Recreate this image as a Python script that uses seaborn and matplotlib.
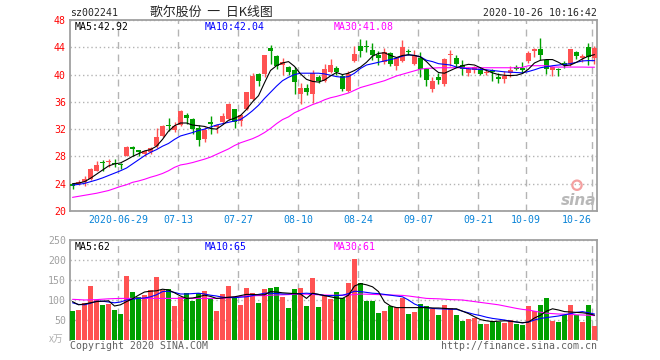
import numpy as np
import pandas as pd
import matplotlib
matplotlib.use("Agg")
import matplotlib.pyplot as plt
import seaborn as sns

# daily K-line of sz002241, 88 sessions (2020-06-15 .. 2020-10-26)
open_px = [23.9, 23.9, 24.2, 24.7, 25.9, 27.2, 27.2, 27.1, 26.9, 28.1,
           29.4, 28.9, 28.4, 28.6, 29.5, 31.0, 32.6, 31.9, 32.6, 34.1,
           33.5, 32.1, 30.5, 33.1, 32.3, 33.1, 33.5, 34.9, 33.2, 34.9,
           36.4, 40.1, 40.1, 43.9, 42.7, 41.4, 41.1, 40.6, 37.2, 38.1,
           37.2, 39.6, 39.1, 40.4, 40.9, 39.8, 37.6, 42.0, 44.2, 44.2,
           43.6, 42.9, 41.8, 43.2, 41.3, 42.0, 43.5, 41.5, 42.5, 40.8,
           37.9, 39.7, 38.6, 42.8, 42.5, 41.4, 40.3, 40.7, 40.6, 40.2,
           40.7, 39.7, 39.4, 40.2, 41.1, 41.0, 42.0, 43.45, 43.8, 42.2,
           40.65, 40.85, 41.7, 41.6, 43.35, 42.5, 44.1, 42.5]
close_px = [23.6, 24.3, 24.7, 26.1, 26.7, 27.0, 27.3, 26.9, 26.7, 29.4,
            29.1, 28.6, 28.8, 29.3, 30.9, 32.4, 32.4, 32.4, 34.6, 33.6,
            32.0, 30.4, 31.9, 32.7, 32.6, 33.9, 35.7, 33.1, 34.1, 37.4,
            39.8, 39.1, 42.9, 43.5, 41.3, 41.8, 40.4, 38.9, 38.1, 37.5,
            40.3, 39.1, 40.8, 41.4, 40.4, 37.9, 40.1, 43.0, 43.4, 44.0,
            42.8, 42.4, 43.3, 41.6, 42.5, 44.0, 43.3, 42.8, 40.8, 39.2,
            39.1, 39.2, 42.3, 43.0, 41.6, 40.8, 40.8, 41.1, 40.1, 40.3,
            40.45, 39.3, 39.8, 40.65, 40.85, 40.6, 43.2, 43.8, 42.9, 40.85,
            41.15, 40.65, 41.35, 43.7, 42.7, 42.7, 42.6, 43.85]
high_px = [24.1, 24.5, 25.2, 26.3, 27.3, 27.5, 27.6, 27.6, 27.1, 29.5,
           29.5, 29.0, 29.0, 29.4, 32.2, 32.6, 33.7, 33.0, 34.8, 34.3,
           33.6, 32.6, 32.3, 33.9, 32.8, 34.3, 35.8, 35.0, 34.2, 37.5,
           40.2, 40.2, 42.9, 44.4, 42.8, 42.4, 41.3, 41.1, 38.8, 38.6,
           40.6, 40.0, 41.5, 42.3, 41.3, 40.1, 40.5, 44.2, 45.2, 45.1,
           44.7, 43.5, 43.9, 43.3, 42.6, 45.0, 43.8, 43.6, 43.3, 41.0,
           39.6, 40.2, 42.4, 43.6, 42.9, 42.2, 41.1, 41.3, 41.1, 40.8,
           40.8, 40.2, 40.5, 41.2, 41.4, 41.8, 43.4, 43.9, 45.3, 42.3,
           41.3, 41.0, 42.0, 43.8, 43.5, 43.0, 44.6, 44.2]
low_px = [23.2, 23.8, 23.6, 24.6, 25.8, 25.9, 26.5, 26.4, 26.2, 28.0,
          28.0, 28.0, 28.1, 28.3, 29.3, 30.9, 31.8, 31.6, 32.4, 32.8,
          31.3, 29.6, 30.1, 31.3, 31.5, 32.7, 33.4, 32.2, 32.5, 34.8,
          36.3, 38.3, 39.6, 41.6, 40.8, 39.9, 40.0, 37.2, 35.7, 37.0,
          35.9, 38.8, 38.9, 40.2, 40.0, 37.6, 37.4, 41.8, 42.6, 43.3,
          42.2, 41.4, 41.6, 41.3, 40.6, 41.9, 42.8, 41.4, 39.6, 38.3,
          37.5, 38.6, 38.3, 41.3, 41.1, 40.0, 39.8, 40.3, 40.0, 40.0,
          39.0, 38.8, 38.7, 39.6, 40.6, 40.2, 41.7, 42.6, 42.2, 40.1,
          39.8, 39.8, 41.0, 41.3, 42.3, 41.9, 41.4, 41.6]
volume = [72.5, 75, 92, 135, 100, 87.5, 90, 75, 65, 160,
          121, 108, 112, 125, 158, 125, 127.5, 85, 108, 118,
          98, 118, 122, 104, 72.5, 115, 135, 104, 87.5, 129,
          118, 93, 127.5, 131, 133, 108, 81, 127.5, 131, 85,
          156, 83, 112, 102, 121, 104, 143, 202.5, 142, 97.5,
          98, 68, 72.5, 85, 82, 104, 65, 70, 90, 85,
          77.5, 62.5, 87.5, 79, 62.5, 48, 52.5, 55, 40, 40,
          47.5, 45, 41.7, 50, 40, 37.5, 85, 72.5, 87.5, 105,
          48, 46, 62.5, 87.5, 62.5, 46, 87.5, 35]

ma5 = [24.0, 24.1, 24.3, 24.8, 25.4, 26.0, 26.6, 26.9, 27.05, 27.5,
       28.0, 28.4, 28.8, 29.0, 29.5, 30.5, 31.7, 32.5, 32.9, 32.9,
       32.6, 32.5, 32.4, 32.1, 32.0, 32.6, 33.3, 33.6, 34.0, 34.9,
       36.0, 36.9, 38.8, 40.6, 41.3, 41.7, 41.9, 41.2, 40.1, 39.3,
       39.0, 38.9, 39.2, 39.8, 40.3, 40.0, 40.2, 40.6, 41.1, 41.8,
       42.7, 43.1, 43.2, 42.8, 42.5, 42.8, 42.9, 42.8, 42.6, 41.9,
       41.0, 40.3, 40.2, 40.6, 41.0, 41.3, 41.5, 41.4, 41.0, 40.6,
       40.25, 40.0, 39.9, 39.85, 39.9, 40.15, 40.8, 41.7, 42.1, 42.2,
       42.2, 41.8, 41.3, 41.4, 41.8, 42.3, 42.7, 42.92]
ma10 = [23.8, 23.9, 24.05, 24.3, 24.55, 24.85, 25.2, 25.55, 25.9, 26.3,
        26.9, 27.5, 28.1, 28.6, 29.0, 29.5, 29.9, 30.5, 31.0, 31.25,
        31.5, 31.8, 32.0, 32.3, 32.6, 32.8, 33.0, 33.2, 33.4, 34.0,
        34.7, 35.5, 36.5, 37.4, 38.3, 39.1, 39.6, 40.0, 40.2, 40.2,
        40.2, 40.2, 40.1, 39.9, 39.7, 39.6, 39.7, 40.2, 40.9, 41.4,
        41.6, 41.8, 42.0, 42.2, 42.4, 42.7, 42.9, 42.8, 42.6, 42.1,
        41.9, 41.6, 41.5, 41.4, 41.1, 40.95, 40.85, 40.8, 40.75, 40.7,
        40.6, 40.5, 40.4, 40.35, 40.3, 40.25, 40.45, 40.7, 41.0, 41.15,
        41.3, 41.4, 41.5, 41.6, 41.8, 42.0, 42.05, 42.04]
ma30 = [22.0, 22.15, 22.3, 22.45, 22.6, 22.8, 23.0, 23.3, 23.6, 23.85,
        24.2, 24.4, 24.65, 24.95, 25.2, 25.5, 25.9, 26.4, 26.75, 26.9,
        27.1, 27.35, 27.6, 27.9, 28.3, 28.7, 29.1, 29.6, 30.0, 30.3,
        30.6, 31.0, 31.5, 32.1, 32.8, 33.4, 33.8, 34.4, 34.8, 35.2,
        35.6, 35.9, 36.3, 36.6, 36.8, 37.05, 37.3, 37.7, 38.1, 38.35,
        38.6, 38.85, 39.1, 39.45, 39.8, 40.05, 40.3, 40.55, 40.8, 40.9,
        40.95, 41.0, 41.0, 41.0, 41.0, 41.0, 41.0, 41.0, 41.0, 41.0,
        41.0, 41.0, 41.0, 41.0, 41.0, 41.05, 41.3, 41.3, 41.3, 41.3,
        41.1, 41.1, 41.1, 41.1, 41.1, 41.1, 41.08, 41.08]

vol_ma5 = [96, 88, 90, 93, 96, 97, 98, 85, 88, 96,
           103, 112, 120, 122, 123, 127, 125, 118, 110, 104,
           105, 108, 112, 109, 104, 105, 107, 108, 111, 114,
           114, 113, 113, 121, 120, 118, 117, 116, 115, 104,
           117, 114, 111, 108, 105, 104, 112, 135, 141, 138,
           133, 121, 95, 85, 81, 81, 81, 81, 81, 81,
           80, 80, 79, 78, 78, 72, 66, 58, 51, 48,
           46, 47, 48, 47, 45, 43, 45, 55, 62, 72,
           78, 75, 71, 70, 69, 68, 66, 62]
vol_ma10 = [93, 89, 88, 92, 97, 97, 95, 93, 95, 100,
            102, 104, 105, 108, 113, 121, 122, 119, 115, 115,
            116, 117, 115, 112, 110, 107, 106, 106, 107, 108,
            111, 114, 117, 117, 116, 115, 115, 116, 116, 117,
            116, 114, 111, 111, 111, 112, 116, 122, 121, 119,
            117, 116, 114, 112, 110, 108, 100, 90, 84, 81,
            79, 78, 77.5, 77, 76.7, 72, 68, 64, 61, 57,
            54, 52, 50, 47, 45, 43, 45, 50, 54, 56,
            58, 60, 63, 66, 69, 71, 68, 65]
vol_ma30 = [101.7, 101, 100, 100.5, 101, 102, 103, 103.5, 104, 104,
            104, 104, 104, 104, 104, 104, 104, 104, 104, 104,
            104, 104, 104, 104, 104, 104, 106, 108, 109, 110,
            110.5, 111, 111, 112, 112.5, 113, 113.5, 114.5, 115, 114.5,
            114, 113, 112.5, 112, 112, 112, 112.5, 113.5, 115, 114.5,
            114, 113.5, 113, 112.5, 112, 111.5, 110, 108, 106, 104,
            103.5, 103, 102, 101, 100.5, 100, 98, 96, 94, 92,
            90, 88, 85, 82, 79, 76.5, 75, 72, 69.5, 67,
            66, 65, 64.5, 64, 63, 62.5, 62, 61]

date_pos = [8, 18, 28, 38, 48, 58, 68, 76, 87]
date_labels = ['2020-06-29', '07-13', '07-27', '08-10', '08-24',
               '09-07', '09-21', '10-09', '10-26']
price_ticks = [20, 24, 28, 32, 36, 40, 44, 48]
vol_ticks = [50, 100, 150, 200, 250]

RED = '#ff5252'
GREEN = '#00a000'
BORDER = '#a0a0a0'

sns.set_style('white')
plt.rcParams['font.family'] = ['DejaVu Sans Mono', 'Noto Sans CJK SC']
plt.rcParams['font.size'] = 7.1

df = pd.DataFrame({'open': open_px, 'high': high_px, 'low': low_px,
                   'close': close_px, 'vol': volume,
                   'ma5': ma5, 'ma10': ma10, 'ma30': ma30,
                   'vma5': vol_ma5, 'vma10': vol_ma10, 'vma30': vol_ma30})
df['idx'] = np.arange(len(df))
df['color'] = np.where(df['close'] >= df['open'], RED, GREEN)
body_lo = df[['open', 'close']].min(axis=1)
body_h = (df['close'] - df['open']).abs().clip(lower=0.15)

fig = plt.figure(figsize=(6.6, 3.6), dpi=100)
ax = fig.add_axes([70 / 660, 149 / 360, 527 / 660, 191 / 360])
axv = fig.add_axes([70 / 660, 20 / 360, 527 / 660, 100 / 360])

# candles
ax.vlines(df['idx'], df['low'], df['high'], colors=df['color'], lw=1, zorder=3)
ax.bar(df['idx'], body_h, bottom=body_lo, width=0.83, color=df['color'], lw=0, zorder=3)
for col, c in [('ma30', '#ff00ff'), ('ma10', '#0000ff'), ('ma5', 'black')]:
    sns.lineplot(data=df, x='idx', y=col, ax=ax, color=c, lw=0.8, legend=False, zorder=4)

# volume
axv.bar(df['idx'], df['vol'], width=0.83, color=df['color'], lw=0, zorder=3)
for col, c in [('vma30', '#ff00ff'), ('vma10', '#0000ff'), ('vma5', 'black')]:
    sns.lineplot(data=df, x='idx', y=col, ax=axv, color=c, lw=0.8, legend=False, zorder=4)

xlim = (-0.42, 87.42)
for a in (ax, axv):
    a.set_xlim(*xlim)
    a.set_xlabel('')
    a.set_ylabel('')
    a.set_xticks([p - 0.4 for p in date_pos])
    a.grid(True, axis='x', color='#b4b4b4', ls=(0, (5, 4)), lw=1)
    a.grid(True, axis='y', color='#b4b4b4', ls=(0, (1, 2)), lw=1)
    a.tick_params(length=0, pad=3)
    for s in a.spines.values():
        s.set_color(BORDER)
        s.set_linewidth(1.3)

ax.set_ylim(20, 48)
ax.set_yticks(price_ticks)
ax.set_yticklabels([str(t) for t in price_ticks], color='#ff0000')
ax.set_xticklabels(date_labels, color='#0a84d8')
ax.get_xticklabels()[-1].set_horizontalalignment('right')

axv.set_ylim(0, 250)
axv.set_yticks(vol_ticks)
axv.set_yticklabels([str(t) for t in vol_ticks], color='#a0a0a0')
axv.set_xticklabels([])
axv.spines['bottom'].set_visible(False)

# legends / captions
ax.text(0.0095, 0.965, 'MA5:42.92', transform=ax.transAxes, va='center', color='black')
ax.text(0.256, 0.965, 'MA10:42.04', transform=ax.transAxes, va='center', color='#0000ff')
ax.text(0.501, 0.965, 'MA30:41.08', transform=ax.transAxes, va='center', color='#ff00ff')
axv.text(0.0095, 0.93, 'MA5:62', transform=axv.transAxes, va='center', color='black')
axv.text(0.256, 0.93, 'MA10:65', transform=axv.transAxes, va='center', color='#0000ff')
axv.text(0.501, 0.93, 'MA30:61', transform=axv.transAxes, va='center', color='#ff00ff')

# sina watermark
ax.text(0.998, 0.055, 'sina', transform=ax.transAxes, ha='right', va='center',
        fontsize=11, fontweight='bold', style='italic', color='#b8b8b8',
        family='DejaVu Sans', zorder=5)
ax.scatter([0.962], [0.135], transform=ax.transAxes, s=45, facecolor='none',
           edgecolor='#f4a0a0', lw=1.6, zorder=5)

fig.text(70 / 660, 1 - 13 / 360, 'sz002241', va='center')
fig.text(150 / 660, 1 - 12 / 360, '歌尔股份  一  日K线图', va='center', fontsize=9.3,
         family=['Noto Sans CJK SC', 'DejaVu Sans'])
fig.text(597 / 660, 1 - 13 / 360, '2020-10-26 10:16:42', ha='right', va='center')
fig.text(64 / 660, 1 - 339 / 360, 'x万', ha='right', va='center', color='#b0b0b0',
         family=['Noto Sans CJK SC', 'DejaVu Sans'])
fig.text(70 / 660, 1 - 346 / 360, 'Copyright 2020 SINA.COM', va='center', color='#606060')
fig.text(597 / 660, 1 - 346 / 360, 'http://finance.sina.com.cn', ha='right', va='center',
         color='#606060')

fig.savefig('out.png', dpi=100)
